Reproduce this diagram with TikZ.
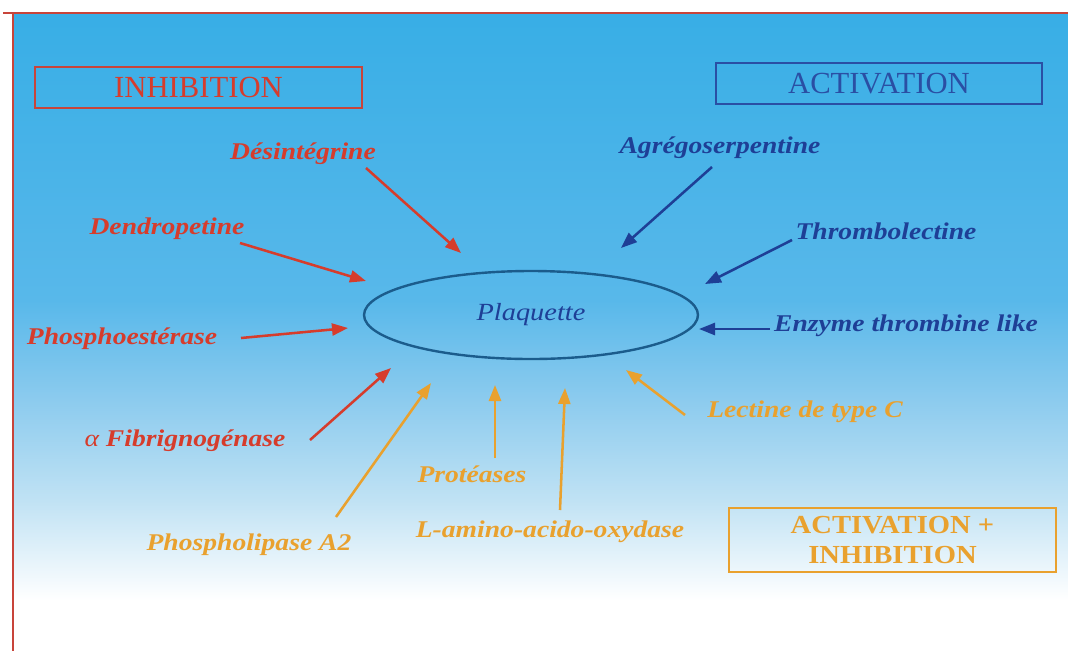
\documentclass[tikz,border=0pt]{standalone}
\usepackage{fontspec}
\setmainfont{Liberation Serif}
\newfontfamily\labfont[FakeStretch=1.15]{Liberation Serif}
\newfontfamily\boxfont[FakeStretch=1.1]{Liberation Serif}
\usetikzlibrary{arrows.meta,shapes.geometric}
\definecolor{bgA}{HTML}{38AEE6}
\definecolor{bgB}{HTML}{58B8EA}
\definecolor{bgC}{HTML}{8CCBEE}
\definecolor{bgD}{HTML}{C0E2F4}
\definecolor{frameRed}{HTML}{C8443A}
\definecolor{labRed}{HTML}{D63C2C}
\definecolor{labBlue}{HTML}{1E3F96}
\definecolor{ellBlue}{HTML}{1B5C8C}
\definecolor{labOrange}{HTML}{E9A12E}
\definecolor{actBlue}{HTML}{2A4FA4}
\pgfdeclareverticalshading{bgshade}{100bp}{color(0bp)=(white); color(25bp)=(white); color(29bp)=(white); color(36.8bp)=(bgD); color(44.7bp)=(bgC); color(52.5bp)=(bgB); color(75bp)=(bgA); color(100bp)=(bgA)}
\tikzset{
  lab/.style={font=\labfont\fontsize{18}{20}\selectfont\bfseries\itshape, inner sep=0pt},
  redlab/.style={lab, text=labRed},
  bluelab/.style={lab, text=labBlue},
  orangelab/.style={lab, text=labOrange},
  arr/.style={line width=1.9pt, -{Triangle[length=12pt,width=9pt]}},
  redarr/.style={arr, draw=labRed},
  bluearr/.style={arr, draw=labBlue},
  orangearr/.style={arr, draw=labOrange},
  hdrbox/.style={draw, line width=1.5pt, minimum width=245pt, minimum height=30.75pt, inner sep=0pt, font=\fontsize{23}{25}\selectfont},
}
\begin{document}
\begin{tikzpicture}[x=0.75pt,y=-0.75pt]
\useasboundingbox (0,0) rectangle (1068,651);
\fill[white] (0,0) rectangle (1068,651);
\shade[shading=bgshade] (13,13) rectangle (1068,651);
\draw[frameRed, line width=1.6pt] (3,13) -- (1068,13);
\draw[frameRed, line width=1.6pt] (13,13) -- (13,651);

% header boxes
\node[hdrbox, draw=frameRed, text=labRed] (inh) at (198.5,87.5) {INHIBITION};
\node[hdrbox, draw=actBlue, text=actBlue] (act) at (879,83.5) {ACTIVATION};
\node[draw=labOrange, line width=1.5pt, minimum width=245.25pt, minimum height=48pt, inner sep=0pt, align=center, text=labOrange, font=\boxfont\fontsize{19.5}{22}\selectfont\bfseries] (ai) at (892.5,540) {ACTIVATION +\\INHIBITION};

% central platelet
\node[ellipse, draw=ellBlue, line width=1.8pt, minimum width=250.5pt, minimum height=66pt, inner sep=0pt, text=labBlue, font=\labfont\fontsize{18.5}{20}\selectfont\itshape] (plq) at (531,315) {Plaquette};

% labels
\node[redlab] (des) at (303,154) {Désintégrine};
\node[redlab] (den) at (167,229) {Dendropetine};
\node[redlab] (pho) at (122,339) {Phosphoestérase};
\node[redlab] (fib) at (185,441) {{\mdseries α} Fibrignogénase};
\node[bluelab] (agr) at (720,148) {Agrégoserpentine};
\node[bluelab] (thr) at (886,231) {Thrombolectine};
\node[bluelab] (enz) at (906,326) {Enzyme thrombine like};
\node[orangelab] (lec) at (805,412) {Lectine de type C};
\node[orangelab] (pro) at (472,474) {Protéases};
\node[orangelab] (lam) at (550,532) {L-amino-acido-oxydase};
\node[orangelab] (pla) at (249,545) {Phospholipase A2};

% arrow ends
\coordinate (t1) at (366,168);  \coordinate (h1) at (461,253);
\coordinate (t2) at (240,243);  \coordinate (h2) at (366,281);
\coordinate (t3) at (241,338);  \coordinate (h3) at (348,328);
\coordinate (t4) at (310,440);  \coordinate (h4) at (391,368);
\coordinate (t5) at (712,167);  \coordinate (h5) at (621,248);
\coordinate (t6) at (792,240);  \coordinate (h6) at (705,284);
\coordinate (t7) at (770,329);  \coordinate (h7) at (699,329);
\coordinate (t8) at (336,517);  \coordinate (h8) at (431,383);
\coordinate (t9) at (495,458);  \coordinate (h9) at (495,385);
\coordinate (t10) at (560,510); \coordinate (h10) at (565,388);
\coordinate (t11) at (685,415); \coordinate (h11) at (626,370);

\draw[redarr] (t1) -- (h1);
\draw[redarr] (t2) -- (h2);
\draw[redarr] (t3) -- (h3);
\draw[redarr] (t4) -- (h4);
\draw[bluearr] (t5) -- (h5);
\draw[bluearr] (t6) -- (h6);
\draw[bluearr] (t7) -- (h7);
\draw[orangearr] (t8) -- (h8);
\draw[orangearr] (t9) -- (h9);
\draw[orangearr] (t10) -- (h10);
\draw[orangearr] (t11) -- (h11);
\end{tikzpicture}
\end{document}
